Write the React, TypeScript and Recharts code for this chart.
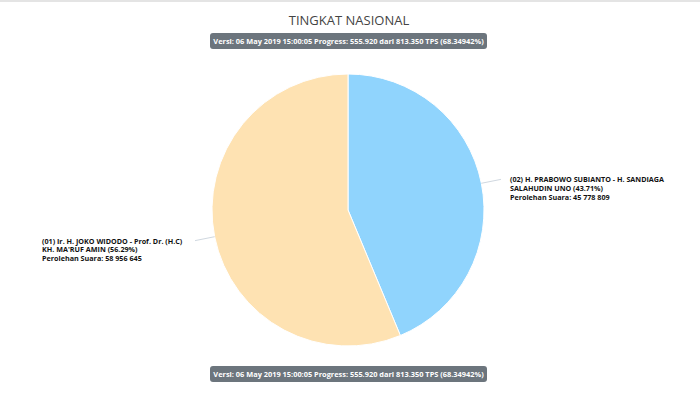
import { PieChart, Pie, Cell } from "recharts";

const title = "TINGKAT NASIONAL";
const versionText = "Versi: 06 May 2019 15:00:05 Progress: 555.920 dari 813.350 TPS (68.34942%)";

const candidateLine1 = ["(02) H. PRABOWO SUBIANTO - H. SANDIAGA", "(01) Ir. H. JOKO WIDODO - Prof. Dr. (H.C)"];
const candidateLine2 = ["SALAHUDIN UNO", "KH. MA'RUF AMIN"];
const percents = ["43.71%", "56.29%"];
const votes = [45778809, 58956645];
const voteLabels = ["45 778 809", "58 956 645"];
const colors = ["#90d4fd", "#fee2b2"];

const data = votes.map((v, i) => ({ name: candidateLine1[i], value: v }));

const RAD = Math.PI / 180;

const renderLabel = (props: any) => {
  const { cx, cy, midAngle, outerRadius, index } = props;
  const cos = Math.cos(-midAngle * RAD);
  const sin = Math.sin(-midAngle * RAD);
  const sx = cx + outerRadius * cos;
  const sy = cy + outerRadius * sin;
  const ex = cx + (outerRadius + 20) * cos;
  const ey = cy + (outerRadius + 20) * sin;
  const right = cos >= 0;
  const tx = right ? ex + 9 : ex - 153;
  const ty = ey + 3;
  return (
    <g>
      <path d={`M${sx},${sy}L${ex},${ey}`} stroke="#d0d8e0" strokeWidth={1} fill="none" />
      <text x={tx} y={ty} fontFamily="'Open Sans', sans-serif" fontSize={7.2} fontWeight={700} fill="#111">
        <tspan x={tx} dy={0}>{candidateLine1[index]}</tspan>
        <tspan x={tx} dy={8.6}>{`${candidateLine2[index]} (${percents[index]})`}</tspan>
        <tspan x={tx} dy={8.6}>{`Perolehan Suara: ${voteLabels[index]}`}</tspan>
      </text>
    </g>
  );
};

const Badge = ({ top }: { top: number }) => (
  <div
    style={{
      position: "absolute",
      left: 210,
      top,
      width: 277,
      height: 16,
      background: "#6c757d",
      borderRadius: 3,
      color: "#fff",
      fontFamily: "'Open Sans', sans-serif",
      fontWeight: 700,
      fontSize: 7.4,
      lineHeight: "16px",
      textAlign: "center",
      whiteSpace: "nowrap",
    }}
  >
    {versionText}
  </div>
);

export default function App() {
  return (
    <div style={{ position: "absolute", left: 0, top: 0, width: 700, height: 393, background: "#fff", overflow: "hidden" }}>
      <div style={{ position: "absolute", left: 0, top: 0, width: 700, height: 2, background: "#e4e4e4" }} />
      <div
        style={{
          position: "absolute",
          left: 0,
          top: 10,
          width: 698,
          textAlign: "center",
          fontFamily: "'Open Sans', sans-serif",
          fontSize: 13,
          color: "#444",
          lineHeight: "21px",
        }}
      >
        {title}
      </div>
      <Badge top={33} />
      <div style={{ position: "absolute", left: 0, top: 0 }}>
        <PieChart width={700} height={393}>
          <Pie
            data={data}
            dataKey="value"
            cx={343}
            cy={205}
            outerRadius={136}
            startAngle={90}
            endAngle={-270}
            stroke="#fff"
            strokeWidth={1}
            label={renderLabel}
            labelLine={false}
            isAnimationActive={false}
          >
            {data.map((d, i) => (
              <Cell key={d.name} fill={colors[i]} />
            ))}
          </Pie>
        </PieChart>
      </div>
      <Badge top={366} />
    </div>
  );
}
